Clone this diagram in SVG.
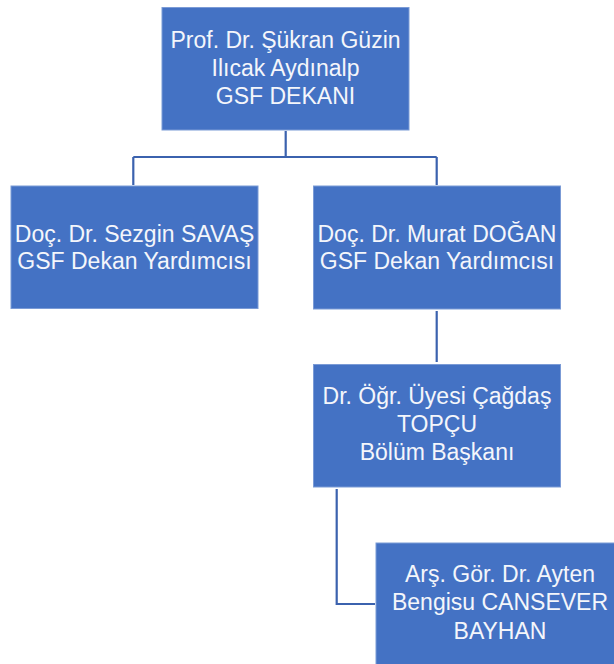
<svg xmlns="http://www.w3.org/2000/svg" width="614" height="664" viewBox="0 0 614 664">
<style>
.box{fill:#4472C4;stroke:#7B9BD6;stroke-width:1}
.t{font-family:"Liberation Sans",Arial,sans-serif;font-size:23px;fill:#F4F6FB;text-anchor:middle}
.c{fill:none;stroke:#3B62AE;stroke-width:2.2}
</style>
<rect width="614" height="664" fill="#FFFFFF"/>
<g id="connectors">
<path class="c" d="M285.7,131 V157 M133.3,157 H436.7 M133.3,157 V185 M436.7,157 V185"/>
<path class="c" d="M436.7,311 V362"/>
<path class="c" d="M336.7,489 V604 H375"/>
</g>
<g id="dekan">
<rect class="box" x="162" y="7.5" width="247" height="122.5"/>
<text class="t" x="285.5" y="48">Prof. Dr. Şükran Güzin</text>
<text class="t" x="285.5" y="76">Ilıcak Aydınalp</text>
<text class="t" x="285.5" y="103.5">GSF DEKANI</text>
</g>
<g id="yard1">
<rect class="box" x="11" y="186" width="247" height="122.5"/>
<text class="t" x="134.5" y="241.5">Doç. Dr. Sezgin SAVAŞ</text>
<text class="t" x="134.5" y="268.5">GSF Dekan Yardımcısı</text>
</g>
<g id="yard2">
<rect class="box" x="313.5" y="186" width="247" height="123"/>
<text class="t" x="437" y="241.5">Doç. Dr. Murat DOĞAN</text>
<text class="t" x="437" y="268.5">GSF Dekan Yardımcısı</text>
</g>
<g id="bolum">
<rect class="box" x="313.5" y="364.5" width="247" height="122.5"/>
<text class="t" x="437" y="404">Dr. Öğr. Üyesi Çağdaş</text>
<text class="t" x="437" y="432">TOPÇU</text>
<text class="t" x="437" y="460">Bölüm Başkanı</text>
</g>
<g id="arsgor">
<rect class="box" x="376" y="543" width="248" height="125"/>
<text class="t" x="500" y="582">Arş. Gör. Dr. Ayten</text>
<text class="t" x="500" y="610">Bengisu CANSEVER</text>
<text class="t" x="500" y="638.5">BAYHAN</text>
</g>
</svg>
